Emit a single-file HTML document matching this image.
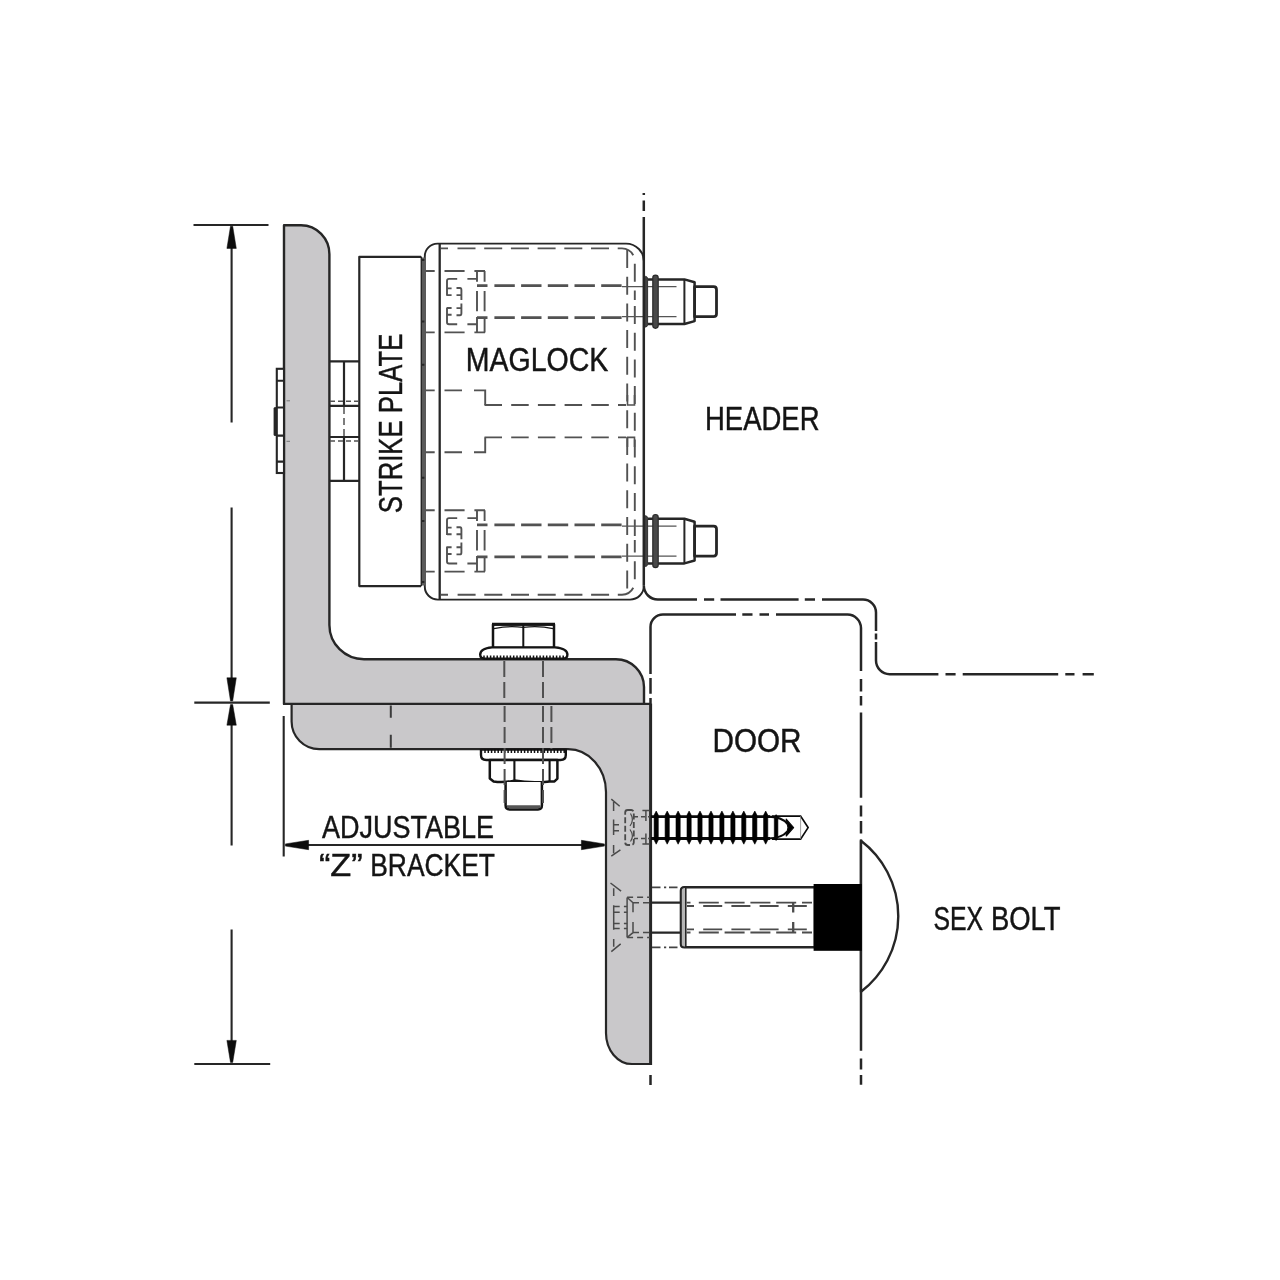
<!DOCTYPE html>
<html lang="en">
<head>
<meta charset="utf-8">
<title>Maglock Z Bracket Installation</title>
<style>
html,body{margin:0;padding:0;background:#fff;}
body{width:1280px;height:1280px;overflow:hidden;}
svg{display:block;filter:blur(0.6px);}
text{font-family:"Liberation Sans",sans-serif;fill:#141414;stroke:#141414;stroke-width:0.45px;}
</style>
</head>
<body>
<svg width="1280" height="1280" viewBox="0 0 1280 1280">
<rect x="0" y="0" width="1280" height="1280" fill="#ffffff"/>

<g fill="#c9c8ca" stroke="#262626" stroke-width="2.4" stroke-linejoin="round">
<path stroke-width="2.2" d="M291.6,703.8 V721.5 A27.6,27.6 0 0 0 319.2,749.2 H568 A38,43 0 0 1 606,792 V1033 A26,31 0 0 0 632,1064 H650.5 V703.8 Z"/>
<path d="M284,225.2 H301 A28.5,29 0 0 1 329.4,254.5 V625 A34.6,34.2 0 0 0 364,659.2 H616 A28,28 0 0 1 644,687 V703.9 H284 Z"/>
</g>
<g stroke="#262626" stroke-width="2.1" fill="none">
<path d="M193.5,225 H268.5"/>
<path d="M194.3,702.6 H269.8"/>
<path d="M194.3,1064 H270.2"/>
<path d="M231.6,240 V422.4 M231.6,507.6 V690 M231.6,716 V845.4 M231.6,929.6 V1050"/>
<path d="M283.7,716 V856.5"/>
<path d="M300,845 H590"/>
</g>
<g fill="#0c0c0c" stroke="#0c0c0c" stroke-width="0.5" stroke-linejoin="round">
<path d="M230.5,226.2 L232.7,226.2 L236.3,248.4 L226.9,248.4 Z"/>
<path d="M230.5,701 L232.7,701 L236.3,677.8 L226.9,677.8 Z"/>
<path d="M230.5,704.6 L232.7,704.6 L236.3,725.2 L226.9,725.2 Z"/>
<path d="M230.5,1062.4 L232.7,1062.4 L236.3,1040.4 L226.9,1040.4 Z"/>
<path d="M285.4,843.9 L285.4,846.1 L308.6,849.7 L308.6,840.3 Z"/>
<path d="M604.4,843.9 L604.4,846.1 L581.4,849.7 L581.4,840.3 Z"/>
</g>
<g stroke="#262626" stroke-width="2.1" fill="#fff">
<rect x="276.8" y="368.8" width="7.2" height="104.2"/>
<path d="M276.8,380.8 H284 M276.8,407.5 H284 M276.8,435.6 H284 M276.8,461.6 H284" fill="none"/>
</g>
<path d="M275.2,408.5 V434.5" stroke="#262626" stroke-width="3.2" stroke-linecap="round" fill="none"/>
<path d="M286.5,400.8 H290 M286.5,441.3 H290" stroke="#777" stroke-width="1" fill="none"/>
<g stroke="#262626" stroke-width="2.2" fill="none">
<path d="M329.4,361.4 H359.3 M329.4,405.8 H359.3 M329.4,437 H359.3 M329.4,480.8 H359.3"/>
<path d="M344,361.4 V405.8 M344,437 V480.8"/>
</g>
<g stroke="#525252" stroke-width="1.5" fill="none" stroke-dasharray="5 3">
<path d="M330,401.2 H358 M330,441 H358"/>
<path d="M344,407 V436" stroke-dasharray="7 4"/>
</g>
<g stroke="#262626" stroke-width="2.2" fill="none" stroke-linejoin="round">
<path d="M421,256.8 H359.3 V586.1 H421"/>
</g>
<g stroke="#262626" stroke-width="1.9" fill="none">
<path d="M644,262 A18,18 0 0 0 626,243.6 H437.5 A12.8,12.8 0 0 0 424.8,256.5 V586.5 A13,13 0 0 0 437.8,599.6 H630 A14,14 0 0 0 644,585.6"/>
<path d="M439.7,243.6 V599.6" stroke-width="2.3"/>
</g>
<rect x="421" y="257.5" width="4.6" height="328" fill="#5a5a5a"/>
<path d="M421.3,256.6 V586.2" stroke="#262626" stroke-width="1.4" fill="none"/>
<g stroke="#262626" stroke-width="1.3" fill="none">
<path d="M422,260 H424.4 M422,321.5 H424.4 M422,364.8 H424.4 M422,477.8 H424.4 M422,521 H424.4 M422,582 H424.4" stroke-width="2"/>
</g>
<g stroke="#525252" stroke-width="1.9" fill="none" stroke-dasharray="18 8.7">
<path d="M457.5,248.4 H622 A13,13 0 0 1 634.8,261 V300"/>
<path d="M457.6,594.7 H622 A13,13 0 0 0 634.8,582 V540"/>
<path d="M634.8,306 V536"/>
<path d="M627.2,250 V593"/>
<path d="M441,248.4 H448 M441,594.7 H448" stroke-dasharray="none"/>
</g>
<g stroke="#525252" stroke-width="1.9" fill="none">
<path d="M425.5,271.0 H434.7 M444.5,271.0 H464.6 M474.4,271.0 H485 M425.5,332.4 H434.7 M444.5,332.4 H464.6 M474.4,332.4 H485"/>
<path d="M477,271.0 V281.7 M477,290.9 V311.3 M477,316.9 V332.4"/>
<path d="M484.6,271.0 V281.7 M484.6,290.9 V311.3 M484.6,316.9 V332.4"/>
<path d="M467.4,278.9 H477 M467.4,324.3 H477"/>
<path d="M457.2,278.9 H449 Q447,278.9 447,281.0 V295.8 M447,288.4 H451.6 M447,295.1 H451.6 M456.5,288.0 H460 Q461.4,288.0 461.4,290.0 V300.0 M456.5,295.1 H461.4"/>
<path d="M457.2,324.3 H449 Q447,324.3 447,322.2 V307.4 M447,314.8 H451.6 M447,308.0 H451.6 M456.5,315.2 H460 Q461.4,315.2 461.4,313.2 V303.4 M456.5,308.1 H461.4"/>
<path d="M425.5,510.2 H434.7 M444.5,510.2 H464.6 M474.4,510.2 H485 M425.5,571.6 H434.7 M444.5,571.6 H464.6 M474.4,571.6 H485"/>
<path d="M477,510.2 V520.9 M477,530.1 V550.5 M477,556.1 V571.6"/>
<path d="M484.6,510.2 V520.9 M484.6,530.1 V550.5 M484.6,556.1 V571.6"/>
<path d="M467.4,518.1 H477 M467.4,563.5 H477"/>
<path d="M457.2,518.1 H449 Q447,518.1 447,520.2 V535.0 M447,527.6 H451.6 M447,534.3 H451.6 M456.5,527.2 H460 Q461.4,527.2 461.4,529.2 V539.2 M456.5,534.3 H461.4"/>
<path d="M457.2,563.5 H449 Q447,563.5 447,561.4 V546.6 M447,554.0 H451.6 M447,547.2 H451.6 M456.5,554.4 H460 Q461.4,554.4 461.4,552.4 V542.6 M456.5,547.3 H461.4"/>
</g>
<g stroke="#525252" stroke-width="1.9" fill="none" stroke-dasharray="17.5 9.2">
<path d="M444.5,390.4 H464.6 M444.5,452.2 H464.6 M484.5,405 H626 M484.5,437.4 H626"/>
<path d="M425.5,390.4 H434.7 M425.5,452.2 H434.7 M474,390.4 H485.2 V405 M474,452.2 H485.2 V437.4" stroke-dasharray="none"/>
</g>
<g stroke="#525252" stroke-width="2.8" fill="none" stroke-dasharray="20.4 6.3">
<path d="M494.4,285.6 H622 M494.4,317.6 H622"/>
<path d="M477,285.6 H487.5 M477,317.6 H487.5" stroke-dasharray="none"/>
<path d="M494.4,524.8 H622 M494.4,556.8 H622"/>
<path d="M477,524.8 H487.5 M477,556.8 H487.5" stroke-dasharray="none"/>
</g>
<g stroke="#525252" stroke-width="1.6" fill="none">
<path d="M627.5,395 V405 H634.5 V395 M627.5,447 V437.4 H634.5 V447"/>
</g>
<path d="M622,286.7 H676.5 M622,316.7 H676.5" stroke="#555" stroke-width="1.3" fill="none"/>
<g stroke="#262626" fill="none" stroke-linejoin="round">
<path d="M647.5,279.4 H684.4 L694.6,282.3 V321.1 L684.4,324.0 H647.5" stroke-width="2.5"/>
<path d="M684.4,279.4 V324.0" stroke-width="2" fill="none"/>
<path d="M694.6,286.7 H713.6 Q716.5,286.7 716.5,289.7 V313.7 Q716.5,316.7 713.6,316.7 H694.6 Z" stroke-width="2.8" fill="#fff"/>
<path d="M644.6,276.4 H645.6 Q647.6,276.4 647.6,279.2 V324.2 Q647.6,327.0 645.6,327.0 H644.6 Z" stroke="#333" stroke-width="1" fill="#444"/>
<rect x="652.8" y="275.1" width="5.4" height="53.2" rx="2.7" fill="#484848" stroke="#2a2a2a" stroke-width="1.2"/>
</g>
<path d="M622,526.1 H676.5 M622,556.1 H676.5" stroke="#555" stroke-width="1.3" fill="none"/>
<g stroke="#262626" fill="none" stroke-linejoin="round">
<path d="M647.5,518.8 H684.4 L694.6,521.7 V560.5 L684.4,563.4 H647.5" stroke-width="2.5"/>
<path d="M684.4,518.8 V563.4" stroke-width="2" fill="none"/>
<path d="M694.6,526.1 H713.6 Q716.5,526.1 716.5,529.1 V553.1 Q716.5,556.1 713.6,556.1 H694.6 Z" stroke-width="2.8" fill="#fff"/>
<path d="M644.6,515.8 H645.6 Q647.6,515.8 647.6,518.6 V563.6 Q647.6,566.4 645.6,566.4 H644.6 Z" stroke="#333" stroke-width="1" fill="#444"/>
<rect x="652.8" y="514.5" width="5.4" height="53.2" rx="2.7" fill="#484848" stroke="#2a2a2a" stroke-width="1.2"/>
</g>
<g stroke="#262626" stroke-width="2.5" fill="none">
<path d="M643.8,193 V195 M643.8,200.4 V211 M643.8,217 V262"/>
<path d="M643.8,262 V585.6"/>
<path d="M643.8,585.6 A14,14 0 0 0 658,599.5 H697 M704,599.5 H714.2 M720.5,599.5 H798.6 M804.8,599.5 H815 M822,599.5 H863 A13,13 0 0 1 876,612.5 V631 M876,633.6 V639.6 M876,642 V660.6 A13.6,13.6 0 0 0 889.6,674.2 H938.4 M945.5,674.2 H955.6 M962.7,674.2 H1058.2 M1065.3,674.2 H1074.5 M1082.6,674.2 H1093.8"/>
<path d="M650.5,674 V627 A12.4,12.4 0 0 1 663,614.6 H736 M742.3,614.6 H752.5 M759.5,614.6 H769 M776,614.6 H847.5 A13.5,13.5 0 0 1 861,628 V671 M861,679 V691.4 M861,696 V705.5 M861,712.5 V797.7 M861,805.5 V816.4 M861,821 V833.6 M861,839.5 V1050.8 M861,1058.5 V1069.4 M861,1075 V1084.7"/>
<path d="M650.5,678 V693.7 M650.5,698 V703.5 M650.5,1075 V1085"/>
<path d="M650.7,703.5 V1065" stroke-width="2.8"/>
</g>
<g stroke="#141414" fill="#fff" stroke-linejoin="round">
<path d="M493,624.6 H554 V648 H493 Z" stroke-width="2.5"/>
<path d="M492,624.3 H555" stroke-width="3" fill="none"/>
<path d="M523.3,625 V648" stroke-width="2" fill="none"/>
<path d="M494,628.6 Q508,625.6 523.3,627.4 Q539,625.6 553,628.6" stroke-width="1.2" fill="none"/>
<path d="M492,647.4 H555 Q567.4,648.4 567.4,654.6 Q567.4,658.8 563,658.8 H484.6 Q480.2,658.8 480.2,654.6 Q480.2,648.4 492,647.4 Z" stroke-width="2.4"/>
<path d="M481,749.6 H565.8 V755 Q565.8,760 560.5,760 H486.3 Q481,760 481,755 Z" stroke-width="2.4"/>
<path d="M489.8,760 H557.4 V778.6 L554.5,781.4 H549.6 Q532,783.6 514.4,780.6 Q504,783 493.6,781.6 L489.8,778.6 Z" stroke-width="2.5"/>
<path d="M514.4,760 V781 M549.6,760 V781.4" stroke-width="2.1" fill="none"/>
<path d="M505.6,782 V805.6 Q505.6,809.4 509.5,809.4 H538 Q541.9,809.4 541.9,805.6 V782" stroke-width="2.5"/>
<path d="M507,806.6 H540.5" stroke-width="2.6" stroke="#555" fill="none"/>
</g>
<path d="M484.0,655.4 V659.4 M487.3,655.4 V659.4 M490.6,655.4 V659.4 M493.9,655.4 V659.4 M497.2,655.4 V659.4 M500.5,655.4 V659.4 M503.8,655.4 V659.4 M507.1,655.4 V659.4 M510.4,655.4 V659.4 M513.7,655.4 V659.4 M517.0,655.4 V659.4 M520.3,655.4 V659.4 M523.6,655.4 V659.4 M526.9,655.4 V659.4 M530.2,655.4 V659.4 M533.5,655.4 V659.4 M536.8,655.4 V659.4 M540.1,655.4 V659.4 M543.4,655.4 V659.4 M546.7,655.4 V659.4 M550.0,655.4 V659.4 M553.3,655.4 V659.4 M556.6,655.4 V659.4 M559.9,655.4 V659.4 M563.2,655.4 V659.4 " stroke="#111" stroke-width="1.5" fill="none"/>
<path d="M485.0,749 V753 M488.3,749 V753 M491.6,749 V753 M494.9,749 V753 M498.2,749 V753 M501.5,749 V753 M504.8,749 V753 M508.1,749 V753 M511.4,749 V753 M514.7,749 V753 M518.0,749 V753 M521.3,749 V753 M524.6,749 V753 M527.9,749 V753 M531.2,749 V753 M534.5,749 V753 M537.8,749 V753 M541.1,749 V753 M544.4,749 V753 M547.7,749 V753 M551.0,749 V753 M554.3,749 V753 M557.6,749 V753 M560.9,749 V753 M564.2,749 V753 " stroke="#111" stroke-width="1.5" fill="none"/>
<g stroke="#505050" stroke-width="2" fill="none" stroke-dasharray="16 5">
<path d="M504.3,661 V702 M543,661 V702 M504.6,706 V803 M543,706 V803 M551.4,706 V749"/>
<path d="M390.8,705.4 V717.8 M390.8,734.7 V747.8" stroke-dasharray="none" stroke="#3c3c3c"/>
</g>
<g stroke="#0a0a0a" fill="none">
<path d="M772,816.1 H800.6 L808.1,827.6 L800.6,839.1 H772" stroke-width="1.7" fill="#fff"/>
<path d="M800.6,816.1 V839.1" stroke-width="0.8" stroke="#888"/>
<path d="M651,816.7 H770 M651,838.5 H770" stroke-width="2.8"/>
<path d="M656.2,811.0 L658.3,815.1 V840.1 L656.2,844.2 L654.1,840.1 V815.1 Z M667.2,811.0 L669.3,815.1 V840.1 L667.2,844.2 L665.1,840.1 V815.1 Z M678.1,811.0 L680.2,815.1 V840.1 L678.1,844.2 L676.0,840.1 V815.1 Z M689.1,811.0 L691.2,815.1 V840.1 L689.1,844.2 L687.0,840.1 V815.1 Z M700.0,811.0 L702.1,815.1 V840.1 L700.0,844.2 L697.9,840.1 V815.1 Z M711.0,811.0 L713.1,815.1 V840.1 L711.0,844.2 L708.9,840.1 V815.1 Z M721.9,811.0 L724.0,815.1 V840.1 L721.9,844.2 L719.8,840.1 V815.1 Z M732.9,811.0 L735.0,815.1 V840.1 L732.9,844.2 L730.8,840.1 V815.1 Z M743.8,811.0 L745.9,815.1 V840.1 L743.8,844.2 L741.7,840.1 V815.1 Z M754.8,811.0 L756.9,815.1 V840.1 L754.8,844.2 L752.6,840.1 V815.1 Z M765.7,811.0 L767.8,815.1 V840.1 L765.7,844.2 L763.6,840.1 V815.1 Z " fill="#000" stroke="#000" stroke-width="0.6" stroke-linejoin="round"/>
<path d="M776.1,814.6 L777.9,817.6 V837.6 L776.1,840.6 L774.3000000000001,837.6 V817.6 Z" fill="#000" stroke="#000" stroke-width="0.6"/>
<path d="M768,816.7 Q782,817.0 787.4,823.8 M768,838.5 Q782,838.2 787.4,831.4" stroke-width="2.2"/>
<path d="M793.6,827.6 L786.2,819.2 L788,827.6 L786.2,836.0 Z" fill="#000" stroke-width="1.2" stroke-linejoin="round"/>
</g>
<g stroke="#4a4a4a" stroke-width="1.5" fill="none">
<rect x="625.2" y="810" width="8.6" height="35" rx="2.5" stroke-dasharray="6 2.5" stroke-width="1.8"/>
<path d="M630.5,813.5 Q634.5,820 630,826 M630,829.5 Q634.5,836 630.5,841.5" stroke-width="1.2"/>
<path d="M634,816.7 H650 M634,838.5 H650" stroke-dasharray="4 3" stroke-width="1.6"/>
<path d="M642.4,810.6 H649.4 M645.9,810.6 V821 M642.4,844 H649.4 M645.9,833.4 V844" stroke-width="1.5"/>
<path d="M611.3,799.1 L619.7,806.2 M613.6,802 V811 M613.6,819.5 V835 M613.6,824.8 H619 M613.6,830.8 H619 M613.6,844.9 V853.3 M611.3,856.1 L620.4,849.8" stroke-width="1.5"/>
</g>
<g stroke="#262626" fill="#fff" stroke-linejoin="round">
<path d="M684.5,887.2 H815 V947.3 H684.5 Q681,947.3 681,944 V890.8 Q681,887.2 684.5,887.2 Z" stroke-width="2.6"/>
<path d="M684.5,887.2 Q681,887.2 681,890.8 V944 Q681,947.3 684.5,947.3 H685.8 V887.2 Z" stroke-width="1.6" fill="#b5b5b5"/>
<path d="M861,840.8 A95,95 0 0 1 861,991.7 Z" stroke-width="2.4"/>
</g>
<rect x="813.6" y="884" width="48.2" height="66.8" fill="#000"/>
<path d="M651,902.6 H681 M651,932.6 H681" stroke="#262626" stroke-width="2.4" fill="none"/>
<path d="M652,887.3 H680 M652,947.3 H680" stroke="#444" stroke-width="1.7" fill="none" stroke-dasharray="8.5 3.5 2.2 2.8"/>
<g stroke="#4c4c4c" stroke-width="1.8" fill="none">
<path d="M698.8,902.7 H812 M698.8,932.5 H812" stroke-dasharray="20 5.8"/>
<path d="M703.2,906 H812 M703.2,929.4 H812" stroke-dasharray="19 9.2"/>
<path d="M686.5,902.7 H690.5 M686.5,932.5 H690.5 M687,906 H694 M687,929.4 H694"/>
<path d="M793.2,902.7 V912.5 M793.2,922 V932.5" stroke-width="2.3"/>
</g>
<g stroke="#4a4a4a" stroke-width="1.5" fill="none">
<path d="M627.1,897.4 V937.5"/>
<path d="M627.1,897.2 H650 M627.1,937.5 H650" stroke-dasharray="6 4"/>
<path d="M627.5,897.8 L633,902.7 M627.5,937.2 L633,932.6"/>
<path d="M633,902.7 H650 M633,932.6 H650" stroke-dasharray="6 4"/>
<path d="M633,902.7 V912.2 M633,922 V932.6"/>
<path d="M610.5,883 L621.1,891.1 M613.7,888.3 V896 M613.7,905.2 V929.8 M613.7,906.6 H619.7 M613.7,912.2 H619.7 M613.7,923.4 H619.7 M613.7,928.4 H619.7 M623.9,906.6 H627.1 M623.9,912.2 H627.1 M623.9,923.4 H627.1 M623.9,928.4 H627.1 M613.7,938.9 V946.7 M611.3,951.6 L620.7,943.8"/>
</g>
<text x="465.8" y="371" font-size="32.3" textLength="142.6" lengthAdjust="spacingAndGlyphs">MAGLOCK</text>
<text x="705" y="430.1" font-size="32.3" textLength="114.5" lengthAdjust="spacingAndGlyphs">HEADER</text>
<text x="712.5" y="752.1" font-size="32.5" textLength="89" lengthAdjust="spacingAndGlyphs">DOOR</text>
<text font-size="33"><tspan x="933.4" y="930" textLength="49.6" lengthAdjust="spacingAndGlyphs">SEX</tspan><tspan x="983.4" y="930" textLength="77.2" lengthAdjust="spacingAndGlyphs"> BOLT</tspan></text>
<text x="322" y="837.8" font-size="32" textLength="172" lengthAdjust="spacingAndGlyphs">ADJUSTABLE</text>
<text font-size="32"><tspan x="318.9" y="876.4" textLength="43.8" lengthAdjust="spacingAndGlyphs">“Z”</tspan><tspan x="362.9" y="876.4" textLength="132" lengthAdjust="spacingAndGlyphs"> BRACKET</tspan></text>
<g transform="translate(402.3,513.2) rotate(-90)">
<text x="0" y="0" font-size="33" textLength="179.5" lengthAdjust="spacingAndGlyphs">STRIKE PLATE</text>
</g>
</svg>
</body>
</html>
